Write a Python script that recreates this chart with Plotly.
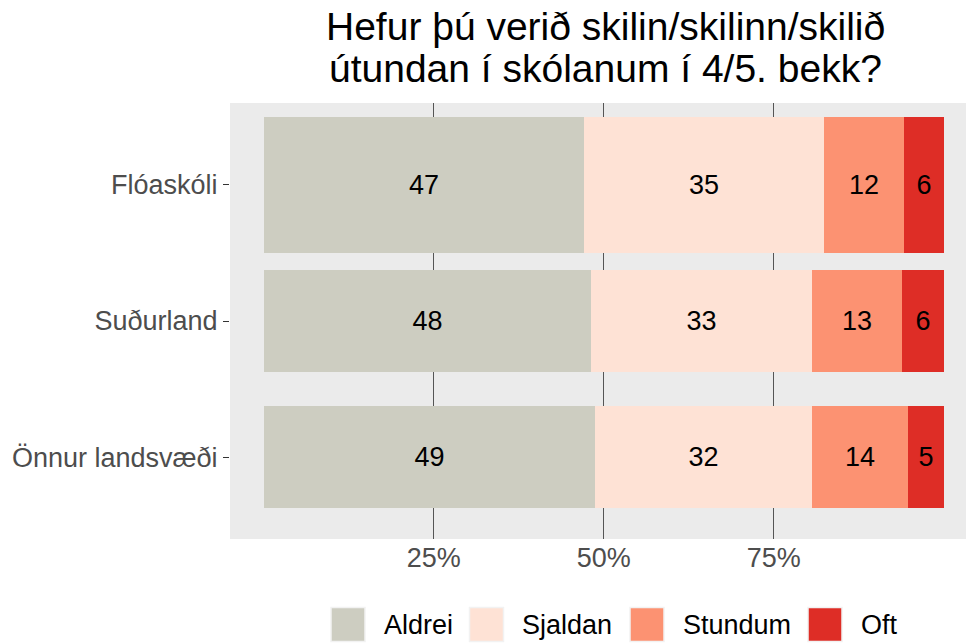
import plotly.graph_objects as go

categories = ["Flóaskóli", "Suðurland", "Önnur landsvæði"]
responses = ["Aldrei", "Sjaldan", "Stundum", "Oft"]
aldrei = [47.06, 48.1, 48.7]
sjaldan = [35.29, 32.6, 31.9]
stundum = [11.76, 13.2, 14.1]
oft = [5.88, 6.1, 5.3]
bar_widths = [1.0, 0.75, 0.75]
x_ticks = [25, 50, 75]
x_ticklabels = ["25%", "50%", "75%"]
title_lines = ["Hefur þú verið skilin/skilinn/skilið", "útundan í skólanum í 4/5. bekk?"]

colors = ["#CDCDC1", "#FEE2D5", "#FC9272", "#DE2D26"]
series = [aldrei, sjaldan, stundum, oft]
FONT = "Liberation Sans, Arial, sans-serif"

# layout geometry in page pixels (body margin removed below)
W, H = 966, 643
PL, PT, PB, PR = 230, 103, 539, 966


def xp(X):
    return (X - PL) / (PR - PL)


def yp(Y):
    return (PB - Y) / (PB - PT)


fig = go.Figure()
for name, vals, col in zip(responses, series, colors):
    fig.add_trace(go.Bar(
        y=categories, x=vals, orientation="h", name=name,
        width=bar_widths, marker=dict(color=col, line=dict(width=0)),
        text=[f"{v:.0f}" for v in vals], textposition="inside",
        insidetextanchor="middle", constraintext="none",
        textfont=dict(family=FONT, size=27, color="black"),
        hoverinfo="x+y", showlegend=False,
    ))

# manual legend (large keys as in the reference)
legend_key_left = [331, 469.5, 630, 808]
KEY = 34
LEG_Y = 624.5
shapes = []
annotations = []
for name, col, kx in zip(responses, colors, legend_key_left):
    shapes.append(dict(
        type="rect", xref="paper", yref="paper",
        x0=xp(kx), x1=xp(kx + KEY), y0=yp(LEG_Y + KEY / 2), y1=yp(LEG_Y - KEY / 2),
        fillcolor=col, line=dict(color="#F2F2F2", width=1.5), layer="above",
    ))
    annotations.append(dict(
        text=name, xref="paper", yref="paper", x=xp(kx + 50.5), y=yp(LEG_Y),
        xanchor="left", yanchor="middle", showarrow=False,
        font=dict(family=FONT, size=27, color="black"),
    ))

# title lines
TITLE_X = 605
TITLE_SIZE = 39
for line, base in zip(title_lines, [40, 82]):
    annotations.append(dict(
        text=line, xref="paper", yref="paper", x=xp(TITLE_X),
        y=yp(base - 0.346 * TITLE_SIZE),
        xanchor="center", yanchor="middle", showarrow=False,
        font=dict(family=FONT, size=TITLE_SIZE, color="black"),
    ))

pxper = 170.0 / 25.0
x0 = -(263.7 - PL) / pxper
x1 = x0 + (PR - PL) / pxper

fig.update_layout(
    width=W, height=H,
    margin=dict(l=PL, r=W - PR, t=PT, b=H - PB, pad=0),
    barmode="stack", bargap=0,
    plot_bgcolor="#EBEBEB", paper_bgcolor="white",
    font=dict(family=FONT, size=27, color="#4D4D4D"),
    showlegend=False,
    shapes=shapes, annotations=annotations,
    xaxis=dict(
        range=[x0, x1], tickvals=x_ticks, ticktext=x_ticklabels,
        showgrid=True, gridcolor="#555555", gridwidth=1, zeroline=False,
        ticks="", tickfont=dict(size=27, color="#4D4D4D"), fixedrange=True,
    ),
    yaxis=dict(
        categoryorder="array", categoryarray=categories,
        range=[2.6, -0.6], showgrid=False, zeroline=False,
        ticks="outside", ticklen=6, tickcolor="#333333", tickwidth=1,
        tickfont=dict(size=27, color="#4D4D4D"),
    ),
)

fig.write_html(
    "out.html",
    config={"displayModeBar": False},
    post_script="document.body.style.margin='0';document.body.style.overflow='hidden';",
)
